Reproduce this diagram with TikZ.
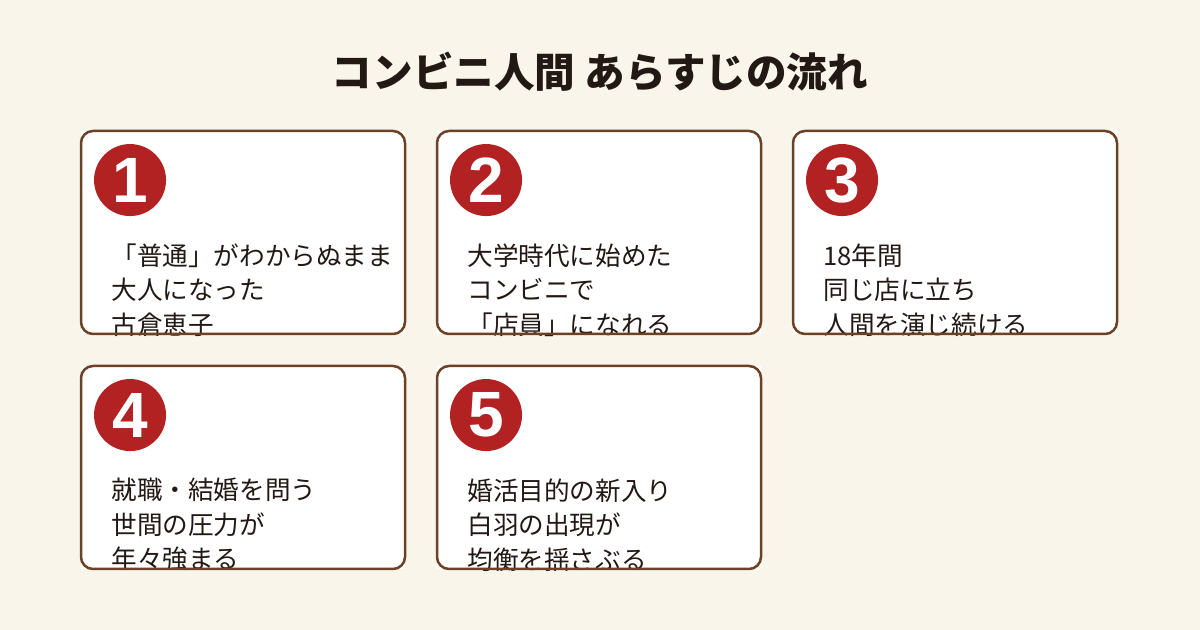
\documentclass[tikz,border=0pt]{standalone}
\usepackage{fontspec}
\setmainfont{Noto Sans CJK JP}
\newfontfamily\digitfont{Liberation Sans}
\usepackage{tikz}
\usetikzlibrary{positioning, calc}
\definecolor{ksCream}{RGB}{250, 245, 234}
\definecolor{ksBrown}{RGB}{107, 66, 38}
\definecolor{ksRed}{RGB}{178, 34, 34}
\definecolor{ksInk}{RGB}{34, 24, 20}
\tikzset{
    card/.style={
        rectangle,
        fill=white,
        draw=none,
        outer sep=0pt,
        minimum width=162pt,
        minimum height=101.5pt
    },
    edge/.style={
        draw=ksBrown,
        line width=1.25pt,
        rounded corners=6pt
    },
    badge/.style={
        circle,
        fill=ksRed,
        text=white,
        inner sep=0pt,
        outer sep=0pt,
        minimum size=36pt,
        font=\digitfont\fontsize{32}{32}\selectfont\bfseries
    },
    story/.style={
        anchor=north west,
        align=left,
        inner sep=0pt,
        text=ksInk,
        font=\fontsize{12.8}{17.25}\selectfont
    },
    heading/.style={
        text=ksInk,
        inner sep=0pt,
        font=\fontsize{20.3}{20.3}\selectfont\bfseries
    }
}

\begin{document}
\begin{tikzpicture}[x=0.5pt, y=-0.5pt]
  \fill[ksCream] (0,0) rectangle (1200,630);
  \useasboundingbox (0,0) rectangle (1200,630);

  \node[heading] (title) at (600,72) {コンビニ人間 あらすじの流れ};

  % cards
  \node[card] (c1) at (243,232.5) {};
  \node[card] (c2) at (599,232.5) {};
  \node[card] (c3) at (955,232.5) {};
  \node[card] (c4) at (243,467.5) {};
  \node[card] (c5) at (599,467.5) {};

  \node[badge, below right=11.8pt and 11.8pt of c1.north west] (n1) {1};
  \node[badge, below right=11.8pt and 11.8pt of c2.north west] (n2) {2};
  \node[badge, below right=11.8pt and 11.8pt of c3.north west] (n3) {3};
  \node[badge, below right=11.8pt and 11.8pt of c4.north west] (n4) {4};
  \node[badge, below right=11.8pt and 11.8pt of c5.north west] (n5) {5};

  \node[story, below right=56pt and 15pt of c1.north west] (s1) {「普通」がわからぬまま\\大人になった\\古倉恵子};
  \node[story, below right=56pt and 15pt of c2.north west] (s2) {大学時代に始めた\\コンビニで\\「店員」になれる};
  \node[story, below right=56pt and 15pt of c3.north west] (s3) {18年間\\同じ店に立ち\\人間を演じ続ける};
  \node[story, below right=56pt and 15pt of c4.north west] (s4) {就職・結婚を問う\\世間の圧力が\\年々強まる};
  \node[story, below right=56pt and 15pt of c5.north west] (s5) {婚活目的の新入り\\白羽の出現が\\均衡を揺さぶる};

  % borders on top of the text
  \draw[edge] (c1.north west) rectangle (c1.south east);
  \draw[edge] (c2.north west) rectangle (c2.south east);
  \draw[edge] (c3.north west) rectangle (c3.south east);
  \draw[edge] (c4.north west) rectangle (c4.south east);
  \draw[edge] (c5.north west) rectangle (c5.south east);
\end{tikzpicture}
\end{document}
